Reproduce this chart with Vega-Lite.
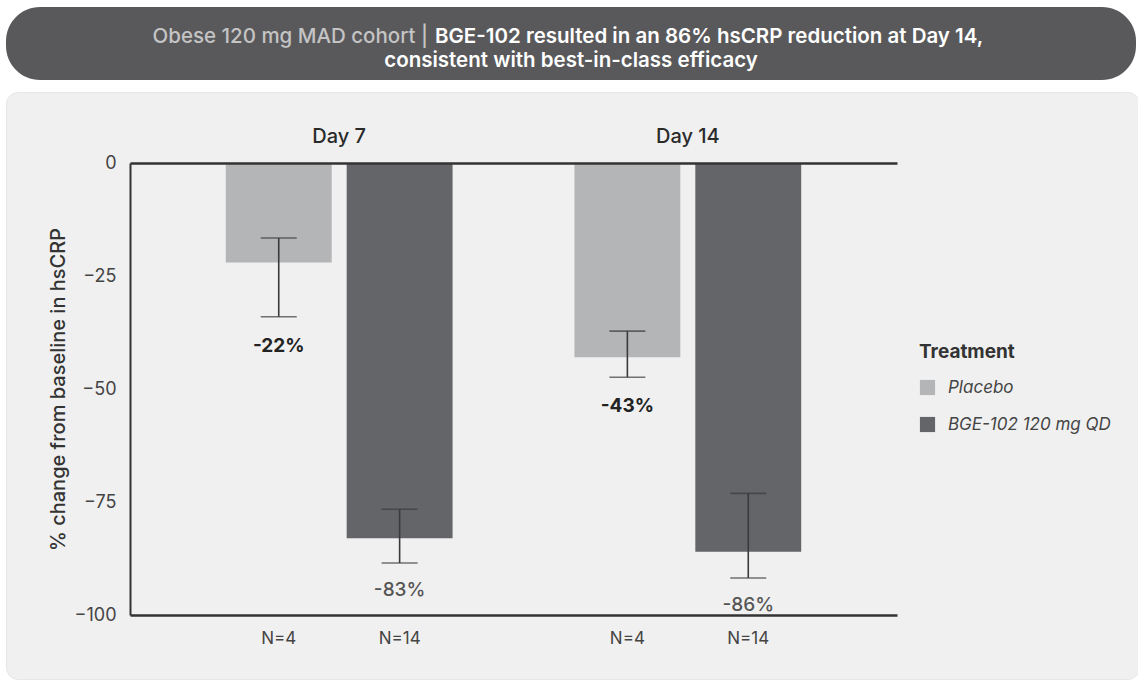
{
  "$schema": "https://vega.github.io/schema/vega-lite/v6.json",
  "background": "white",
  "padding": {"left": 5, "top": 7, "right": 0, "bottom": 0},
  "config": {"font": "Inter", "view": {"stroke": null}, "concat": {"spacing": 11}},
  "datasets": {
    "bars": [
      {"Day": "Day 7", "Treatment": "Placebo", "value": -22, "lo": -34, "hi": -16.6, "label": "-22%", "n": "N=4"},
      {"Day": "Day 7", "Treatment": "BGE-102 120 mg QD", "value": -83, "lo": -88.5, "hi": -76.6, "label": "-83%", "n": "N=14"},
      {"Day": "Day 14", "Treatment": "Placebo", "value": -43, "lo": -47.4, "hi": -37.2, "label": "-43%", "n": "N=4"},
      {"Day": "Day 14", "Treatment": "BGE-102 120 mg QD", "value": -86, "lo": -91.8, "hi": -73.1, "label": "-86%", "n": "N=14"}
    ],
    "header": [
      {"line": 1, "part": "a", "text": "Obese 120 mg MAD cohort |"},
      {"line": 1, "part": "b", "text": "BGE-102 resulted in an 86% hsCRP reduction at Day 14,"},
      {"line": 2, "part": "c", "text": "consistent with best-in-class efficacy"}
    ]
  },
  "vconcat": [
    {
      "width": 1130,
      "height": 73,
      "view": {"fill": "#59595b", "cornerRadius": 34, "stroke": null},
      "data": {"name": "header"},
      "encoding": {
        "x": {"datum": 0, "type": "quantitative", "scale": {"domain": [-1, 1]}, "axis": null},
        "y": {"field": "line", "type": "ordinal", "scale": {"type": "point", "padding": 1.02, "align": 0.612}, "axis": null}
      },
      "layer": [
        {"transform": [{"filter": "datum.part == 'a'"}],
         "mark": {"type": "text", "align": "right", "baseline": "middle", "dx": -143, "fontSize": 20.5, "color": "#c4c4c4", "fontWeight": 500},
         "encoding": {"text": {"field": "text"}}},
        {"transform": [{"filter": "datum.part == 'b'"}],
         "mark": {"type": "text", "align": "left", "baseline": "middle", "dx": -136, "fontSize": 20.5, "color": "#ffffff", "fontWeight": 600},
         "encoding": {"text": {"field": "text"}}},
        {"transform": [{"filter": "datum.part == 'c'"}],
         "mark": {"type": "text", "align": "center", "baseline": "middle", "fontSize": 20.5, "color": "#ffffff", "fontWeight": 600},
         "encoding": {"text": {"field": "text"}}}
      ]
    },
    {
      "width": 1133,
      "height": 587,
      "view": {"fill": "#f0f0f0", "cornerRadius": 12, "stroke": "#e6e6e6"},
      "data": {"name": "bars"},
      "encoding": {
        "x": {"field": "Day", "type": "nominal", "sort": ["Day 7", "Day 14"],
              "scale": {"range": [124, 891], "paddingInner": 0, "paddingOuter": 0.1}, "axis": null},
        "xOffset": {"field": "Treatment", "type": "nominal", "sort": ["Placebo", "BGE-102 120 mg QD"],
                    "scale": {"paddingInner": 0.124, "paddingOuter": 0.504}}
      },
      "layer": [
        {
          "mark": {"type": "bar"},
          "encoding": {
            "x": {"field": "Day", "type": "nominal", "sort": ["Day 7", "Day 14"],
                  "axis": {"orient": "top", "offset": -71, "title": null, "ticks": false, "domainColor": "#333333", "domainWidth": 2.5, "labelFontSize": 20, "labelColor": "#2a2a2a", "labelFontWeight": 500, "labelPadding": 17, "labelAngle": 0, "zindex": 1}},
            "y": {"field": "value", "type": "quantitative",
                  "scale": {"domain": [-100, 0], "range": [523, 71], "nice": false, "zero": false},
                  "axis": {"orient": "left", "offset": -124, "values": [0, -25, -50, -75, -100], "ticks": false, "grid": false, "domainColor": "#333333", "domainWidth": 2, "labelFontSize": 18, "labelColor": "#444444", "labelPadding": 14, "title": "% change from baseline in hsCRP", "titleFontSize": 20, "titleColor": "#333333", "titleFontWeight": 500, "titlePadding": 6, "zindex": 1}},
            "y2": {"datum": 0},
            "color": {"field": "Treatment", "type": "nominal",
                      "scale": {"domain": ["Placebo", "BGE-102 120 mg QD"], "range": ["#b4b5b7", "#646568"]},
                      "legend": {"orient": "none", "legendX": 913, "legendY": 336, "title": "Treatment", "titleFontSize": 19, "titleFontWeight": "bold", "titleColor": "#333333", "titlePadding": 17, "labelFontSize": 17, "labelFontStyle": "italic", "labelColor": "#444444", "labelLimit": 300, "symbolType": "square", "symbolSize": 230, "symbolStrokeWidth": 0, "rowPadding": 19, "labelOffset": 12}}
          }
        },
        {
          "mark": {"type": "rule", "color": "#3a3a3a", "strokeWidth": 1.6},
          "encoding": {"y": {"field": "lo", "type": "quantitative"}, "y2": {"field": "hi"}}
        },
        {
          "mark": {"type": "tick", "color": "#3a3a3a", "thickness": 1.6, "size": 36},
          "encoding": {"y": {"field": "lo", "type": "quantitative"}}
        },
        {
          "mark": {"type": "tick", "color": "#3a3a3a", "thickness": 1.6, "size": 36},
          "encoding": {"y": {"field": "hi", "type": "quantitative"}}
        },
        {
          "transform": [{"filter": "datum.Treatment == 'Placebo'"}],
          "mark": {"type": "text", "baseline": "middle", "dy": 29, "fontSize": 19, "fontWeight": "bold", "color": "#222222"},
          "encoding": {"y": {"field": "lo", "type": "quantitative"}, "text": {"field": "label"}}
        },
        {
          "transform": [{"filter": "datum.Treatment != 'Placebo'"}],
          "mark": {"type": "text", "baseline": "middle", "dy": 27, "fontSize": 19, "fontWeight": 500, "color": "#555555"},
          "encoding": {"y": {"field": "lo", "type": "quantitative"}, "text": {"field": "label"}}
        },
        {
          "mark": {"type": "text", "baseline": "middle", "dy": 24, "fontSize": 17, "color": "#444444"},
          "encoding": {
            "x": {"field": "Day", "type": "nominal", "sort": ["Day 7", "Day 14"],
                  "axis": {"orient": "bottom", "offset": -64, "labels": false, "ticks": false, "title": null, "domainColor": "#333333", "domainWidth": 2.5, "zindex": 1}},
            "y": {"datum": -100, "type": "quantitative"},
            "text": {"field": "n"}
          }
        }
      ],
      "resolve": {"axis": {"x": "independent"}}
    }
  ]
}
